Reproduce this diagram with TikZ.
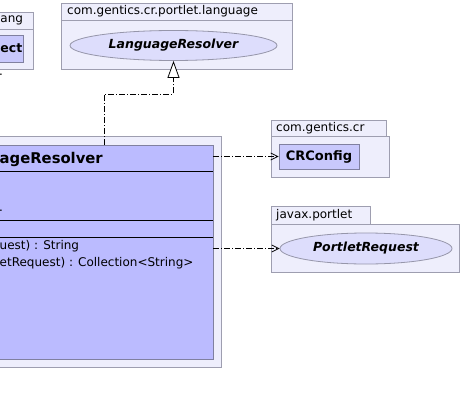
\documentclass[tikz,border=0pt]{standalone}
\usepackage{fontspec}
\setmainfont{DejaVu Sans}
\usetikzlibrary{positioning,shapes.geometric,arrows.meta}

\begin{document}
\begin{tikzpicture}[x=1pt,y=1pt,
  pkg/.style={draw=pkgLine,fill=pkgFill,line width=0.8pt,inner sep=0pt,outer sep=0pt},
  pkglabel/.style={inner sep=0pt,font=\fontsize{12}{14}\selectfont},
  cls/.style={draw=clsLine,fill=clsFill,line width=0.8pt,inner sep=0pt,outer sep=0pt},
  extcls/.style={draw=clsLine,fill=extFill,line width=0.8pt,inner sep=0pt,font=\fontsize{13}{15}\selectfont\bfseries},
  iface/.style={ellipse,draw=ifcLine,fill=ifcFill,line width=0.8pt,inner sep=0pt,font=\fontsize{12.5}{15}\selectfont\bfseries\itshape},
  member/.style={anchor=west,inner sep=0pt,font=\fontsize{12}{14}\selectfont},
  depends/.style={line width=0.8pt,dash pattern=on 6pt off 2pt on 1pt off 2pt,-{Straight Barb[length=7pt,width=7pt]}},
  realizes/.style={line width=0.8pt,dash pattern=on 6pt off 2pt on 1pt off 2pt,-{Triangle[open,length=17pt,width=12pt,fill=white]}}]
\definecolor{pkgFill}{RGB}{238,238,252}
\definecolor{pkgLine}{RGB}{158,158,176}
\definecolor{clsFill}{RGB}{187,187,255}
\definecolor{clsLine}{RGB}{128,128,160}
\definecolor{extFill}{RGB}{200,200,252}
\definecolor{ifcFill}{RGB}{221,221,252}
\definecolor{ifcLine}{RGB}{150,150,170}
\path[use as bounding box,fill=white] (0,0) rectangle (462,405);

% java.lang (cut off)
\node[pkg,minimum width=53pt,minimum height=40pt] (langpkg) at (6.5,356) {};
\node[pkg,minimum width=53pt,minimum height=17pt,above=0pt of langpkg] (langtab) {};
\node[pkglabel,anchor=west] at (0.3,384.5) {ang};
\node[extcls,minimum width=43pt,minimum height=27pt] (objbox) at (1.5,356.5) {};
\node[inner sep=0pt,anchor=west,font=\fontsize{12.5}{15}\selectfont\bfseries] at (0.3,356.5) {ect};
\node[member,anchor=base west] at (-1,329) {.};

% com.gentics.cr.portlet.language
\node[pkg,minimum width=231pt,minimum height=49pt] (respkg) at (176.5,360.5) {};
\node[pkg,minimum width=231pt,minimum height=17pt,above=0pt of respkg] (restab) {};
\node[pkglabel,right=6pt of restab.west] {com.gentics.cr.portlet.language};
\node[iface,minimum width=207pt,minimum height=30pt] (langres) at (173.5,359.5) {LanguageResolver};

% resolver class
\node[pkg,minimum width=241pt,minimum height=231pt] (mainpkg) at (100.5,153.5) {};
\node[cls,minimum width=233pt,minimum height=214pt] (resolver) at (96.5,153) {};
\draw[line width=0.8pt] (-20,234) -- (resolver.east |- 0,234);
\draw[line width=0.8pt] (-20,185) -- (resolver.east |- 0,185);
\draw[line width=0.8pt] (-20,168) -- (resolver.east |- 0,168);
\node[inner sep=0pt,anchor=west,font=\fontsize{14.8}{17}\selectfont\bfseries] at (-0.5,246) {ageResolver};
\node[member,anchor=base west] at (-1,194) {.};
\node[member] at (-0.5,159) {uest) : String};
\node[member] at (-0.5,142) {etRequest) : Collection<String>};

% com.gentics.cr
\node[pkg,minimum width=118pt,minimum height=41pt] (crpkg) at (330,248.5) {};
\node[pkg,minimum width=115pt,minimum height=16pt,anchor=south west] (crtab) at (crpkg.north west) {};
\node[pkglabel,right=5pt of crtab.west] {com.gentics.cr};
\node[extcls,minimum width=80pt,minimum height=25pt] (crconfig) at (319,248.5) {CRConfig};

% javax.portlet
\node[pkg,minimum width=188pt,minimum height=48pt] (portletpkg) at (365,157) {};
\node[pkg,minimum width=99pt,minimum height=18pt,anchor=south west] (portlettab) at (portletpkg.north west) {};
\node[pkglabel,right=5pt of portlettab.west] {javax.portlet};
\node[iface,minimum width=172pt,minimum height=31pt] (portletreq) at (366,156.5) {PortletRequest};

% connectors
\coordinate (inhstart) at (104,260);
\draw[realizes] (inhstart) -- ++(0,51) -| (langres.south);
\draw[depends] (resolver.east |- crconfig.west) -- (crconfig.west);
\draw[depends] (resolver.east |- portletreq.west) -- (portletreq.west);
\end{tikzpicture}
\end{document}
